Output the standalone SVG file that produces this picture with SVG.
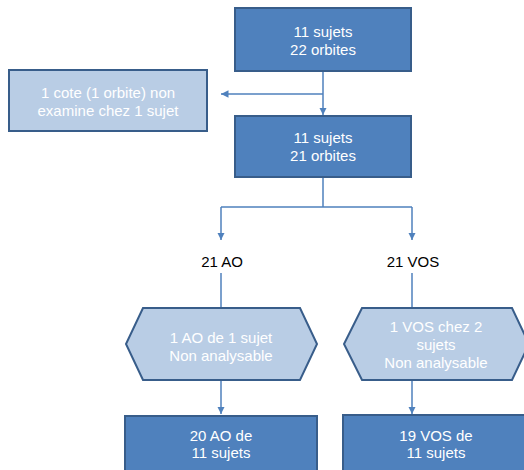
<svg xmlns="http://www.w3.org/2000/svg" width="524" height="470" viewBox="0 0 524 470">
<style>
.dark{fill:#4f81bd;stroke:#385d8a;stroke-width:2}
.light{fill:#b9cde5;stroke:#385d8a;stroke-width:2}
.t{font-family:"Liberation Sans",Arial,sans-serif;font-size:15px;text-anchor:middle;fill:#ffffff}
.tk{font-family:"Liberation Sans",Arial,sans-serif;font-size:15px;text-anchor:middle;fill:#000000}
.c{fill:none;stroke:#4f81bd;stroke-width:1.5}
</style>
<defs>
<marker id="ah" viewBox="0 0 10 10" refX="10" refY="5" markerWidth="5" markerHeight="5" orient="auto" markerUnits="strokeWidth">
<path d="M0,0 L10,5 L0,10 z" fill="#4f81bd"/>
</marker>
</defs>
<rect width="524" height="470" fill="#ffffff"/>
<g id="connectors">
<path class="c" d="M323,71 V115" marker-end="url(#ah)"/>
<path class="c" d="M323,94 H221" marker-end="url(#ah)"/>
<path class="c" d="M323,177 V207 M221,207 H412"/>
<path class="c" d="M221,207 V240" marker-end="url(#ah)"/>
<path class="c" d="M412,207 V240" marker-end="url(#ah)"/>
<path class="c" d="M221,273 V308"/>
<path class="c" d="M412,273 V308"/>
<path class="c" d="M221,380 V414" marker-end="url(#ah)"/>
<path class="c" d="M412,380 V414" marker-end="url(#ah)"/>
</g>
<g id="n1">
<rect class="dark" x="235" y="8" width="176" height="63"/>
<text class="t" x="323" y="37">11 sujets</text>
<text class="t" x="323" y="55">22 orbites</text>
</g>
<g id="n2">
<rect class="light" x="9" y="70" width="198" height="61"/>
<text class="t" x="108" y="98">1 cote (1 orbite) non</text>
<text class="t" x="108" y="116">examine chez 1 sujet</text>
</g>
<g id="n3">
<rect class="dark" x="235" y="116" width="176" height="61"/>
<text class="t" x="323" y="143">11 sujets</text>
<text class="t" x="323" y="161">21 orbites</text>
</g>
<g id="n4">
<text class="tk" x="222" y="267">21 AO</text>
</g>
<g id="n5">
<text class="tk" x="413" y="267">21 VOS</text>
</g>
<g id="n6">
<polygon class="light" points="143,308 300,308 317,344 300,380 143,380 126,344"/>
<text class="t" x="221" y="343">1 AO de 1 sujet</text>
<text class="t" x="221" y="361">Non analysable</text>
</g>
<g id="n7">
<polygon class="light" points="362,308 512,308 529,344 512,380 362,380 344,344"/>
<text class="t" x="436" y="332">1 VOS chez 2</text>
<text class="t" x="436" y="350">sujets</text>
<text class="t" x="436" y="368">Non analysable</text>
</g>
<g id="n8">
<rect class="dark" x="125" y="416" width="192" height="70"/>
<text class="t" x="221" y="441">20 AO de</text>
<text class="t" x="221" y="458">11 sujets</text>
</g>
<g id="n9">
<rect class="dark" x="343" y="415" width="190" height="70"/>
<text class="t" x="436" y="441">19 VOS de</text>
<text class="t" x="436" y="458">11 sujets</text>
</g>
</svg>
